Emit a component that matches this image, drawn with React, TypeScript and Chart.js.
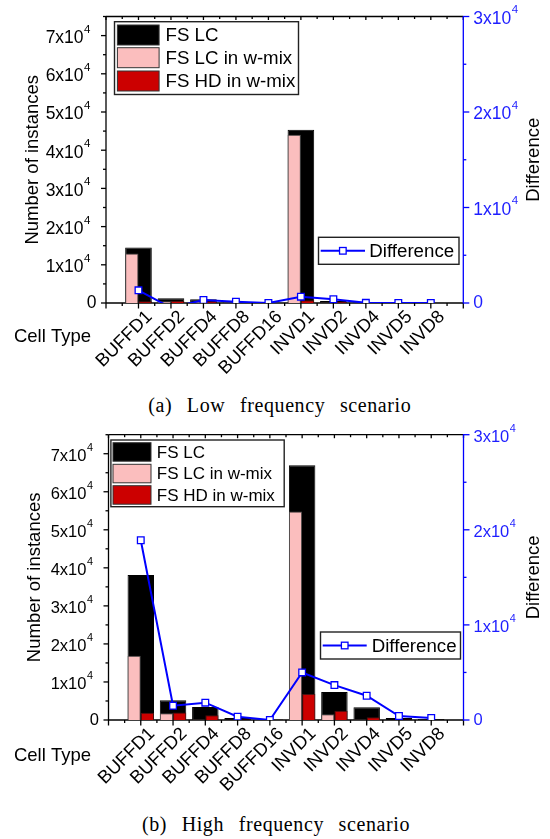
import React, { useEffect, useRef } from 'react';
import { Chart, registerables } from 'chart.js';

Chart.register(...registerables);

// ---------------- data ----------------
const categories = ['BUFFD1', 'BUFFD2', 'BUFFD4', 'BUFFD8', 'BUFFD16', 'INVD1', 'INVD2', 'INVD4', 'INVD5', 'INVD8'];
const legendLabels = ['FS LC', 'FS LC in w-mix', 'FS HD in w-mix'];
const diffLabel = 'Difference';
const leftTicks = [0, 10000, 20000, 30000, 40000, 50000, 60000, 70000];
const rightTicks = [0, 10000, 20000, 30000];

// (a) Low frequency scenario
const lowFsLc = [14550, 1230, 1000, 200, 60, 45380, 520, 120, 80, 60];
const lowFsLcMix = [12990, 450, 300, 100, 30, 44070, 150, 50, 40, 30];
const lowFsHdMix = [450, 550, 440, 60, 20, 750, 300, 50, 30, 20];
const lowDiff = [1330, -500, 310, 140, 0, 660, 390, 20, 0, 0];

// (b) High frequency scenario
const highFsLc = [38100, 5220, 3420, 530, 120, 67000, 7330, 3380, 530, 260];
const highFsLcMix = [16900, 1800, 120, 80, 30, 54800, 1500, 100, 60, 40];
const highFsHdMix = [1900, 1950, 1230, 120, 40, 6840, 2400, 700, 100, 60];
const highDiff = [18900, 1500, 1820, 350, 0, 5000, 3670, 2550, 420, 210];

// ---------------- style ----------------
const SANS = '"Liberation Sans", Arial, Helvetica, sans-serif';
const SERIF = '"Liberation Serif", "Times New Roman", serif';
const BLACK = '#000000';
const PINK = '#FBBEBE';
const RED = '#CC0000';
const BLUE = '#0000FF';
const BLUE_TEXT = '#1E1EFF';

type Layout = {
  top: number;
  height: number;
  area: { l: number; r: number; t: number; b: number };
  tickFont: number;
  legendFont: number;
  legendBox: number[];
  swatchX: number;
  swatchW: number;
  swatchH: number;
  rowsY: number[];
  textX: number;
  diffBox: number[];
  diffLine: number[];
  diffTextX: number;
  yTitleX: number;
  cellTypeX: number;
  cellTypeY: number;
  rightTitleX: number;
  caption: string;
  captionX: number;
  captionY: number;
};

const layoutA: Layout = {
  top: 0,
  height: 390,
  area: { l: 106, r: 463.3, t: 16.5, b: 303 },
  tickFont: 17.5,
  legendFont: 18.7,
  legendBox: [114.5, 21.7, 184, 72.8],
  swatchX: 117.4,
  swatchW: 41.7,
  swatchH: 20,
  rowsY: [25, 47.7, 71],
  textX: 165.5,
  diffBox: [318.5, 237.3, 140.5, 27],
  diffLine: [320.7, 365],
  diffTextX: 369.3,
  yTitleX: 33.3,
  cellTypeX: 52.5,
  cellTypeY: 337,
  rightTitleX: 534,
  caption: '(a) Low frequency scenario',
  captionX: 279.8,
  captionY: 405,
};

const layoutB: Layout = {
  top: 420,
  height: 390,
  area: { l: 108.5, r: 463.5, t: 14.7, b: 300 },
  tickFont: 16.5,
  legendFont: 17,
  legendBox: [110.9, 20, 173.3, 66.7],
  swatchX: 113,
  swatchW: 38,
  swatchH: 18.5,
  rowsY: [22.7, 44.3, 65.7],
  textX: 156.8,
  diffBox: [320.5, 212, 140, 27],
  diffLine: [322.7, 366.7],
  diffTextX: 371.7,
  yTitleX: 34.7,
  cellTypeX: 52.5,
  cellTypeY: 335.5,
  rightTitleX: 534,
  caption: '(b) High frequency scenario',
  captionX: 276,
  captionY: 824.3,
};

const pad = (a: number[]) => [null, ...a, null];
const xLabels = ['', ...categories, ''];

function line(ctx: CanvasRenderingContext2D, x1: number, y1: number, x2: number, y2: number) {
  ctx.beginPath();
  ctx.moveTo(x1, y1);
  ctx.lineTo(x2, y2);
  ctx.stroke();
}

function drawTickLabel(
  ctx: CanvasRenderingContext2D,
  v: number,
  x: number,
  y: number,
  align: 'left' | 'right',
  size: number,
  color: string
) {
  ctx.fillStyle = color;
  ctx.textBaseline = 'middle';
  if (v === 0) {
    ctx.font = `${size}px ${SANS}`;
    ctx.textAlign = align;
    ctx.fillText('0', align === 'right' ? x + 6 : x, y);
    return;
  }
  const main = `${v / 10000}x10`;
  const sup = '4';
  const supSize = size * 0.66;
  ctx.font = `${size}px ${SANS}`;
  const wm = ctx.measureText(main).width;
  ctx.font = `${supSize}px ${SANS}`;
  const ws = ctx.measureText(sup).width;
  const x0 = align === 'right' ? x - wm - ws - 0.5 : x;
  ctx.textAlign = 'left';
  ctx.font = `${size}px ${SANS}`;
  ctx.fillText(main, x0, y + 2.5);
  ctx.font = `${supSize}px ${SANS}`;
  ctx.fillText(sup, x0 + wm + 0.5, y + 2.5 - size * 0.5);
}

function drawMarker(ctx: CanvasRenderingContext2D, x: number, y: number) {
  ctx.fillStyle = '#ffffff';
  ctx.strokeStyle = BLUE;
  ctx.lineWidth = 1.3;
  ctx.fillRect(x - 3.3, y - 3.3, 6.6, 6.6);
  ctx.strokeRect(x - 3.3, y - 3.3, 6.6, 6.6);
}

function makeDecor(p: Layout) {
  return {
    id: 'decor',
    beforeDatasetsDraw(chart: any) {
      const ctx: CanvasRenderingContext2D = chart.ctx;
      const { left, right, top, bottom } = chart.chartArea;
      const xs = chart.scales.x;
      const ys = chart.scales.y;
      const y2 = chart.scales.y2;
      ctx.save();
      ctx.lineWidth = 1.3;
      ctx.strokeStyle = '#000';
      line(ctx, left, top, left, bottom);
      line(ctx, left, bottom, right, bottom);
      line(ctx, left, top, right, top);
      for (let v = 0; v <= 75000; v += 5000) {
        const py = ys.getPixelForValue(v);
        const major = v % 10000 === 0;
        line(ctx, left - (major ? 5 : 3), py, left, py);
      }
      for (let i = 0; i <= 22; i++) {
        const px = xs.getPixelForValue(i / 2);
        const major = i % 2 === 0;
        line(ctx, px, top, px, top + (major ? 3.5 : 2.5));
        line(ctx, px, bottom, px, bottom + (major ? 5.5 : 3));
      }
      ctx.strokeStyle = BLUE;
      line(ctx, right, top - 0.6, right, bottom + 0.6);
      for (let v = 0; v <= 30000; v += 5000) {
        const py = y2.getPixelForValue(v);
        const major = v % 10000 === 0;
        line(ctx, right, py, right + (major ? 6 : 3), py);
      }
      for (const v of leftTicks) {
        const py = ys.getPixelForValue(v);
        drawTickLabel(ctx, v, left - 15.5, py, 'right', p.tickFont, '#000');
      }
      for (const v of rightTicks) {
        const py = y2.getPixelForValue(v);
        drawTickLabel(ctx, v, right + 10, py, 'left', p.tickFont, BLUE_TEXT);
      }
      ctx.fillStyle = '#000';
      ctx.font = `18.3px ${SANS}`;
      ctx.textAlign = 'right';
      ctx.textBaseline = 'middle';
      categories.forEach((c, i) => {
        const px = xs.getPixelForValue(i + 1);
        ctx.save();
        ctx.translate(px + 11, bottom + 11);
        ctx.rotate(-Math.PI / 4);
        ctx.fillText(c, 0, 0);
        ctx.restore();
      });
      ctx.font = `18.5px ${SANS}`;
      ctx.textAlign = 'center';
      ctx.save();
      ctx.translate(p.yTitleX, (top + bottom) / 2);
      ctx.rotate(-Math.PI / 2);
      ctx.fillText('Number of instances', 0, 0);
      ctx.restore();
      ctx.save();
      ctx.translate(p.rightTitleX, (top + bottom) / 2);
      ctx.rotate(-Math.PI / 2);
      ctx.fillText('Difference', 0, 0);
      ctx.restore();
      ctx.fillText('Cell Type', p.cellTypeX, p.cellTypeY);
      ctx.restore();
    },
    afterDatasetsDraw(chart: any) {
      const ctx: CanvasRenderingContext2D = chart.ctx;
      ctx.save();
      const [bx, by, bw, bh] = p.legendBox;
      ctx.fillStyle = '#fff';
      ctx.fillRect(bx, by, bw, bh);
      ctx.strokeStyle = '#222';
      ctx.lineWidth = 1.4;
      ctx.strokeRect(bx, by, bw, bh);
      const fills = [BLACK, PINK, RED];
      legendLabels.forEach((lab, i) => {
        const ry = p.rowsY[i];
        ctx.fillStyle = fills[i];
        ctx.fillRect(p.swatchX, ry, p.swatchW, p.swatchH);
        ctx.strokeStyle = '#333';
        ctx.lineWidth = 1;
        ctx.strokeRect(p.swatchX, ry, p.swatchW, p.swatchH);
        ctx.fillStyle = '#000';
        ctx.font = `${p.legendFont}px ${SANS}`;
        ctx.textAlign = 'left';
        ctx.textBaseline = 'middle';
        ctx.fillText(lab, p.textX, ry + p.swatchH / 2 + 1);
      });
      const [dx, dy, dw, dh] = p.diffBox;
      ctx.fillStyle = '#fff';
      ctx.fillRect(dx, dy, dw, dh);
      ctx.strokeStyle = '#222';
      ctx.lineWidth = 1.4;
      ctx.strokeRect(dx, dy, dw, dh);
      const my = dy + dh / 2;
      ctx.strokeStyle = BLUE;
      ctx.lineWidth = 2;
      line(ctx, p.diffLine[0], my, p.diffLine[1], my);
      drawMarker(ctx, (p.diffLine[0] + p.diffLine[1]) / 2, my);
      ctx.fillStyle = '#000';
      ctx.font = `18.7px ${SANS}`;
      ctx.textAlign = 'left';
      ctx.textBaseline = 'middle';
      ctx.fillText(diffLabel, p.diffTextX, my + 1);
      ctx.restore();
    },
  };
}

type PanelData = { fsLc: number[]; fsLcMix: number[]; fsHdMix: number[]; diff: number[] };

function Panel({ data, layout }: { data: PanelData; layout: Layout }) {
  const ref = useRef<HTMLCanvasElement | null>(null);
  useEffect(() => {
    if (!ref.current) return;
    const a = layout.area;
    const chart = new Chart(ref.current, {
      type: 'bar',
      data: {
        labels: xLabels,
        datasets: [
          {
            type: 'bar',
            label: legendLabels[0],
            data: pad(data.fsLc),
            backgroundColor: BLACK,
            borderColor: BLACK,
            borderWidth: 1,
            grouped: false,
            order: 2,
            barPercentage: 1,
            categoryPercentage: 0.82,
          },
          {
            type: 'bar',
            label: legendLabels[1],
            data: pad(data.fsLcMix),
            backgroundColor: PINK,
            borderColor: '#4a4a4a',
            borderWidth: 1,
            grouped: true,
            order: 1,
            barPercentage: 1,
            categoryPercentage: 0.82,
          },
          {
            type: 'bar',
            label: legendLabels[2],
            data: pad(data.fsHdMix),
            backgroundColor: RED,
            borderColor: '#4a1010',
            borderWidth: 1,
            grouped: true,
            order: 1,
            barPercentage: 1,
            categoryPercentage: 0.82,
          },
          {
            type: 'line',
            label: diffLabel,
            data: pad(data.diff),
            borderColor: BLUE,
            borderWidth: 2,
            pointStyle: 'rect',
            pointRadius: 4.7,
            pointBackgroundColor: '#ffffff',
            pointBorderColor: BLUE,
            pointBorderWidth: 1.3,
            tension: 0,
            yAxisID: 'y2',
            order: 0,
          },
        ] as any,
      },
      options: {
        responsive: false,
        animation: false,
        devicePixelRatio: 1,
        layout: {
          padding: { left: a.l, right: 550 - a.r, top: a.t, bottom: layout.height - a.b },
        },
        plugins: { legend: { display: false }, tooltip: { enabled: false }, title: { display: false } },
        scales: {
          x: { type: 'category', display: false, offset: false },
          y: { type: 'linear', display: false, min: 0, max: 75000 },
          y2: { type: 'linear', display: false, min: 0, max: 30000, position: 'right' },
        },
      } as any,
      plugins: [makeDecor(layout)],
    });
    return () => chart.destroy();
  }, [data, layout]);

  return (
    <>
      <canvas
        ref={ref}
        width={550}
        height={layout.height}
        style={{ position: 'absolute', left: 0, top: layout.top, width: 550, height: layout.height }}
      />
      <div
        style={{
          position: 'absolute',
          left: layout.captionX,
          top: layout.captionY - 12,
          transform: 'translateX(-50%)',
          whiteSpace: 'nowrap',
          fontFamily: SERIF,
          fontSize: 20,
          lineHeight: '24px',
          letterSpacing: '0.6px',
          wordSpacing: '9px',
          color: '#000',
        }}
      >
        {layout.caption}
      </div>
    </>
  );
}

const dataA: PanelData = { fsLc: lowFsLc, fsLcMix: lowFsLcMix, fsHdMix: lowFsHdMix, diff: lowDiff };
const dataB: PanelData = { fsLc: highFsLc, fsLcMix: highFsLcMix, fsHdMix: highFsHdMix, diff: highDiff };

export default function App() {
  return (
    <div style={{ position: 'fixed', left: 0, top: 0, width: 550, height: 839, background: '#fff', overflow: 'hidden' }}>
      <Panel data={dataA} layout={layoutA} />
      <Panel data={dataB} layout={layoutB} />
    </div>
  );
}
